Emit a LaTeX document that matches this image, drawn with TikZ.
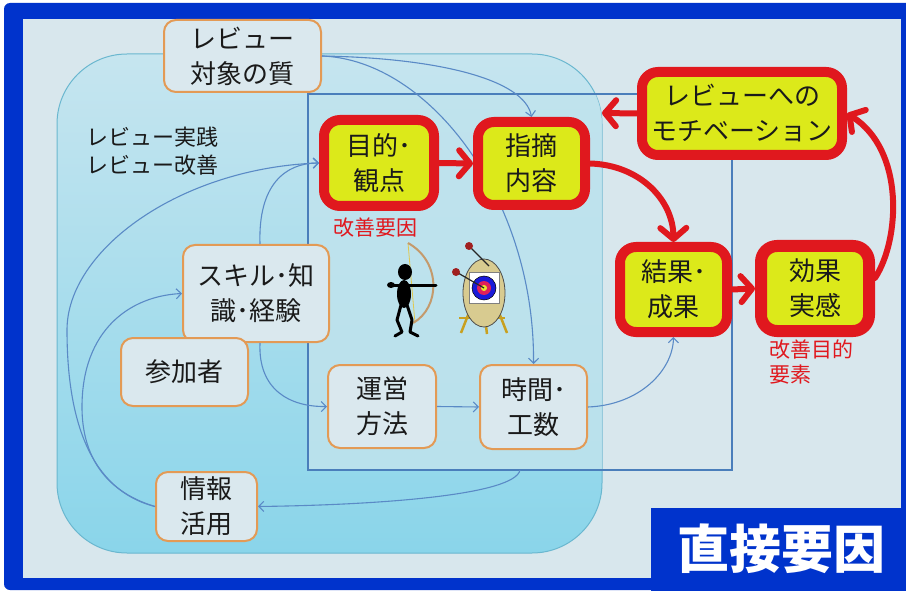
\documentclass[tikz,border=0pt]{standalone}
\usepackage{fontspec}
\setmainfont{Noto Sans CJK JP}
\usetikzlibrary{arrows.meta,calc}

\definecolor{frameblue}{HTML}{0033CC}
\definecolor{panel}{HTML}{D8E7ED}
\definecolor{regtop}{HTML}{C6E5EF}
\definecolor{regbot}{HTML}{8AD5EA}
\definecolor{regline}{HTML}{6AB7CF}
\definecolor{rectfill}{HTML}{C0E3ED}
\definecolor{rectline}{HTML}{4A7EBB}
\definecolor{flow}{HTML}{5A8AC6}
\definecolor{orangeline}{HTML}{E39A55}
\definecolor{boxfill}{HTML}{DAE8EE}
\definecolor{redline}{HTML}{E0181E}
\definecolor{lime}{HTML}{DCE91A}
\definecolor{ink}{HTML}{1A1A1A}
\definecolor{bowwood}{HTML}{C49A6C}
\definecolor{bowstring}{HTML}{E0C850}
\definecolor{board}{HTML}{D8CB90}
\definecolor{easel}{HTML}{C8A020}
\definecolor{fletch}{HTML}{A02020}
\definecolor{ringblue}{HTML}{1A1AD8}
\definecolor{ringred}{HTML}{E0205A}
\definecolor{ringyellow}{HTML}{E8E830}

\tikzset{
  factor/.style={draw=orangeline, fill=boxfill, line width=2pt, rounded corners=12pt,
    align=center, text=ink, font=\fontsize{26}{35}\selectfont, inner sep=0pt},
  keyfactor/.style={draw=redline, fill=lime, line width=10pt, rounded corners=16pt,
    align=center, text=ink, font=\fontsize{26}{35}\selectfont, inner sep=0pt},
  flowarrow/.style={draw=flow, line width=1.1pt, -{Straight Barb[length=5pt,width=10pt]}},
  redarrow/.style={draw=redline, line width=6pt, line cap=round,
    -{Straight Barb[round,length=11pt,width=26pt]}},
  note/.style={text=redline, font=\fontsize{21}{25}\selectfont, align=left, inner sep=0pt},
}

\begin{document}
\begin{tikzpicture}[x=1pt,y=-1pt]
\useasboundingbox (0,0) rectangle (906,591);
\clip (0,0) rectangle (906,591);

% page, frame and panel
\fill[white] (0,0) rectangle (906,591);
\fill[frameblue, rounded corners=6pt] (4,3) rectangle (920,590);
\fill[panel] (23,19) rectangle (901,578);

% review practice region
\shade[top color=regtop, bottom color=regbot, rounded corners=70pt] (57,54) rectangle (602,553);
\draw[regline, line width=1pt, rounded corners=70pt] (57,54) rectangle (602,553);

% direct-factor frame
\begin{scope}
  \clip[rounded corners=70pt] (57,54) rectangle (602,553);
  \fill[rectfill, opacity=0.85] (308,94) rectangle (732,470);
\end{scope}
\draw[rectline, line width=1.6pt] (308,94) rectangle (732,470);
\coordinate (rectfoot) at (520,470);
\coordinate (motivout) at (602,113);

% nodes
\node[factor, minimum width=157pt, minimum height=72pt] (quality) at (242.5,56) {レビュー\\対象の質};
\node[factor, minimum width=146pt, minimum height=97pt] (skill) at (256,293.5) {スキル･知\\識･経験};
\node[factor, minimum width=127pt, minimum height=68pt] (member) at (184.5,372) {参加者};
\node[factor, minimum width=101pt, minimum height=69pt] (info) at (206.5,506.5) {情報\\活用};
\node[factor, minimum width=108pt, minimum height=83pt] (ops) at (382,406.5) {運営\\方法};
\node[factor, minimum width=107pt, minimum height=84pt] (time) at (533.5,407) {時間･\\工数};

% thin flows (drawn under the key factors)
\draw[flowarrow] (quality.east) .. controls (440,58) and (525,80) .. (531.5,117);
\draw[flowarrow] (quality.east) .. controls (430,60) and (535,200) .. (time.north);
\draw[flowarrow] ([xshift=4pt]skill.north) .. controls (258,185) and (285,163) .. (319,163);
\draw[flowarrow] (info.west) .. controls (90,490) and (67,420) .. (67,330)
                 .. controls (67,250) and (180,168) .. (319,163);
\draw[flowarrow] (info.west) .. controls (100,490) and (82,450) .. (82,407)
                 .. controls (82,330) and (130,296) .. (skill.west);
\draw[flowarrow] ([xshift=4pt]skill.south) .. controls (258,390) and (290,407) .. (ops.west);
\draw[flowarrow] (ops.east) -- (time.west);
\draw[flowarrow] (time.east) .. controls (640,405) and (673,370) .. (673.5,337);
\draw[flowarrow] (rectfoot) .. controls (515,495) and (380,505) .. (info.east);

\node[keyfactor, minimum width=110pt, minimum height=86pt] (purpose) at (379,163) {目的･\\観点};
\node[keyfactor, minimum width=107pt, minimum height=83pt] (point) at (531.5,163.5) {指摘\\内容};
\node[keyfactor, minimum width=200pt, minimum height=83pt] (motiv) at (742,113.5) {レビューへの\\モチベーション};
\node[keyfactor, minimum width=107pt, minimum height=85pt] (result) at (673.5,289.5) {結果･\\成果};
\node[keyfactor, line width=12pt, minimum width=108pt, minimum height=85pt] (effect) at (815,288.5) {効果\\実感};

% main causal loop
\draw[redarrow] (purpose.east) -- (point.west);
\draw[redarrow] (point.east) .. controls (640,165) and (673,200) .. (result.north);
\draw[redarrow] (result.east) -- (effect.west);
\draw[redarrow] (effect.10) .. controls (900,240) and (905,150) .. (motiv.east);
\draw[redarrow] (motiv.west) -- (motivout);

% labels
\node[anchor=west, align=left, text=ink, font=\fontsize{22}{28}\selectfont, inner sep=0pt]
  (practice) at (86,151) {レビュー実践\\レビュー改善};
\node[note] (cause) at (375,228) {改善要因};
\node[note, anchor=north west] (goal) at (769,340) {改善目的\\要素};

% archer
\draw[bowstring, line width=0.8pt] (408,243) -- (415,323);
\draw[bowwood, line width=2pt] (408,243) .. controls (442,262) and (440,308) .. (413,323);
\fill[black] (405,272) ellipse (7pt and 8pt);
\fill[black] (404,294) ellipse (7pt and 14pt);
\draw[black, line width=3pt, line cap=round] (393,285) -- (436,285);
\fill[black] (391,285) ellipse (4pt and 3pt);
\draw[black, line width=3pt, line cap=round, line join=round]
  (401,305) -- (397,320) -- (402,332) -- (395,336);
\draw[black, line width=3pt, line cap=round, line join=round]
  (407,305) -- (412,320) -- (410,332) -- (418,336);

% target on easel
\draw[easel, line width=2.5pt] (472,305) -- (461,333);
\draw[easel, line width=2.5pt] (496,305) -- (507,333);
\draw[easel, line width=2.5pt] (485,318) -- (487,334);
\draw[easel, line width=2.5pt] (459,318) -- (505,318);
\filldraw[fill=board, draw=black!70, line width=0.8pt] (484,293) ellipse (21pt and 34pt);
\filldraw[fill=white, draw=black!50, line width=0.6pt] (469,272) rectangle (499,303);
\filldraw[fill=ringblue, draw=black, line width=0.5pt] (484,288) circle (12pt);
\fill[ringred] (484,288) circle (7pt);
\fill[ringyellow] (484,288) circle (3pt);
\draw[black!85, line width=1.2pt] (470,247) -- (489,266);
\draw[black!85, line width=1.2pt] (458,273) -- (484,288);
\fill[fletch] (469,246) circle (4pt);
\fill[fletch] (456,272) circle (4pt);

% direct factor caption
\fill[frameblue] (651,508) rectangle (906,591);
\node[text=white, font=\fontsize{52}{52}\selectfont\bfseries, inner sep=0pt] (direct) at (781,549) {直接要因};
\end{tikzpicture}
\end{document}
